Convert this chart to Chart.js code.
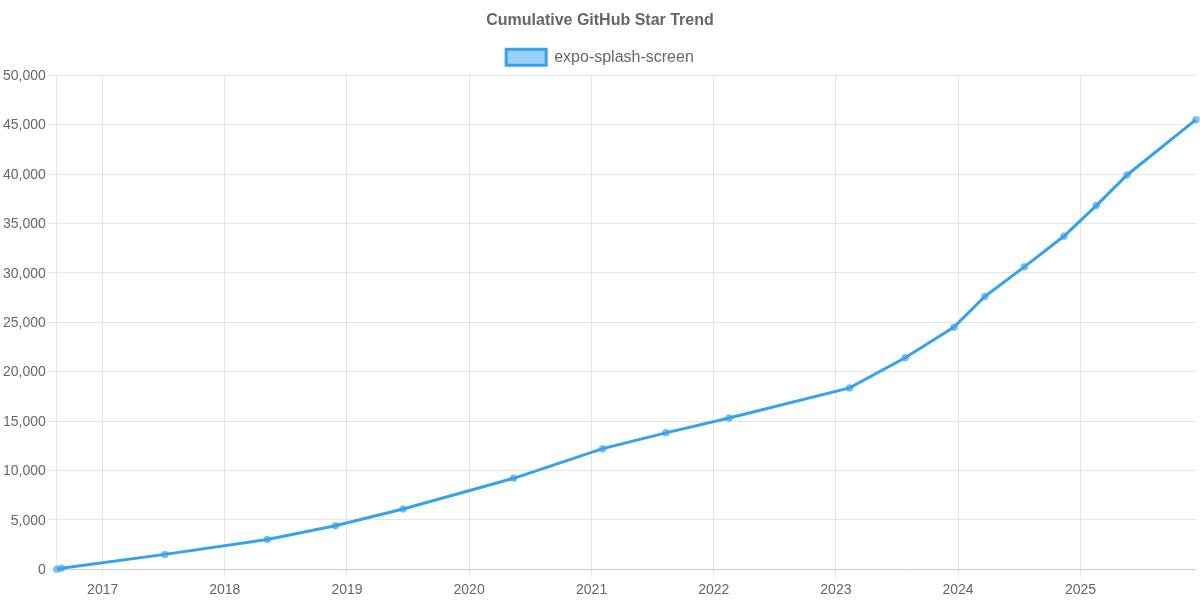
<!DOCTYPE html>
<html>
<head>
<meta charset="utf-8">
<style>html,body{margin:0;padding:0;background:#fff}#wrap{width:1200px;height:600px}</style>
<script src="https://cdn.jsdelivr.net/npm/chart.js@4"></script>
</head>
<body>
<div id="wrap"><canvas id="c" width="1200" height="600"></canvas></div>
<script>
const dates = ['2016-08-17','2016-08-31','2017-07-06','2018-05-08','2018-11-27','2019-06-18','2020-05-13','2021-02-03','2021-08-11','2022-02-16','2023-02-11','2023-07-27','2023-12-20','2024-03-21','2024-07-17','2024-11-12','2025-02-17','2025-05-20','2025-12-12'];
const stars = [0,100,1500,3000,4400,6100,9200,12200,13800,15300,18350,21400,24500,27600,30600,33700,36800,39900,45500];
const years = [2017,2018,2019,2020,2021,2022,2023,2024,2025];
const seriesName = 'expo-splash-screen';
const chartTitle = 'Cumulative GitHub Star Trend';

Chart.defaults.font.family = '"Liberation Sans", Helvetica, Arial, sans-serif';
Chart.defaults.color = '#666';
const nudgeLabels = {
  id: 'nudgeLabels',
  afterLayout(chart) {
    const s = chart.scales.y;
    s._labelItems = null;
    s.getLabelItems().forEach(item => { item.options.translation[1] += 1; });
  }
};
new Chart(document.getElementById('c'), {
  type: 'line',
  plugins: [nudgeLabels],
  data: { datasets: [{
    label: seriesName,
    data: dates.map((d,i)=>({x: Date.parse(d+'T00:00:00Z'), y: stars[i]})),
    borderColor: '#36A2EB',
    backgroundColor: 'rgba(54,162,235,0.5)',
    borderWidth: 3,
    pointRadius: 3,
    pointBorderWidth: 1.5,
    pointBackgroundColor: 'rgba(54,162,235,0.5)',
    pointBorderColor: 'rgba(54,162,235,0.6)',
    clip: false,
    tension: 0
  }]},
  options: {
    responsive: false,
    animation: false,
    layout: { autoPadding: false },
    plugins: {
      title: { display: true, text: chartTitle, font: {size: 16, weight: 'bold'}, color: '#666', padding: {top: 11, bottom: 9} },
      legend: { display: true, labels: { font: {size: 16}, color: '#666' } },
      tooltip: { enabled: false }
    },
    scales: {
      x: {
        type: 'linear',
        min: Date.parse(dates[0]+'T00:00:00Z'),
        max: Date.parse(dates[dates.length-1]+'T00:00:00Z'),
        afterBuildTicks(axis){ axis.ticks = years.map(y=>({value: Date.UTC(y,0,1)})); },
        afterFit(axis){ axis.height -= 4; axis.paddingRight = 4; },
        ticks: { font: {size: 14}, color: '#666', maxRotation: 0, autoSkip: false, padding: 5,
          callback(v){ return String(new Date(v).getUTCFullYear()); } }
      },
      y: {
        min: 0, max: 50000,
        ticks: { font: {size: 14}, color: '#666', stepSize: 5000,
          callback(v){ return v.toLocaleString('en-US'); } }
      }
    }
  }
});
</script>
</body>
</html>
